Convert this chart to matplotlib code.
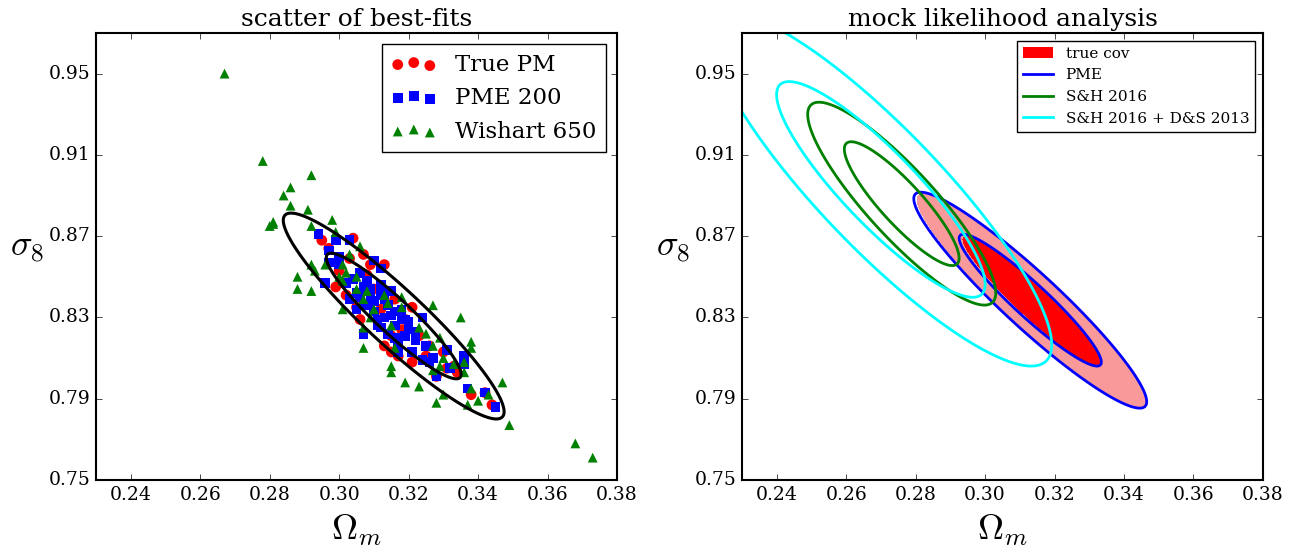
import numpy as np
import matplotlib
matplotlib.use('Agg')
import matplotlib.pyplot as plt
from matplotlib.patches import Patch
from matplotlib.lines import Line2D

plt.style.use('classic')
plt.rcParams['font.family'] = ['DejaVu Serif']
plt.rcParams['mathtext.fontset'] = 'cm'
plt.rcParams['axes.linewidth'] = 1.5

# best-fit points
true_pm_om = [0.295, 0.304, 0.297, 0.307, 0.303, 0.313, 0.299, 0.305, 0.321, 0.315,
              0.313, 0.315, 0.317, 0.321, 0.328, 0.331, 0.333, 0.334, 0.330, 0.338,
              0.342, 0.344, 0.308, 0.310, 0.316, 0.319, 0.323, 0.326, 0.302, 0.306,
              0.312, 0.318, 0.325, 0.300, 0.309]
true_pm_s8 = [0.868, 0.869, 0.864, 0.861, 0.859, 0.856, 0.845, 0.835, 0.835, 0.821,
              0.816, 0.813, 0.811, 0.808, 0.801, 0.805, 0.806, 0.803, 0.813, 0.792,
              0.793, 0.787, 0.851, 0.844, 0.839, 0.829, 0.821, 0.816, 0.841, 0.829,
              0.834, 0.824, 0.811, 0.853, 0.856]

pme_om = [0.294, 0.299, 0.303, 0.297, 0.300, 0.310, 0.297, 0.300, 0.312, 0.296,
          0.304, 0.308, 0.307, 0.312, 0.305, 0.309, 0.307, 0.313, 0.315, 0.310,
          0.315, 0.318, 0.319, 0.316, 0.320, 0.312, 0.307, 0.316, 0.322, 0.317,
          0.321, 0.324, 0.326, 0.327, 0.336, 0.336, 0.328, 0.337, 0.342, 0.345,
          0.324, 0.303, 0.305, 0.314, 0.318, 0.309, 0.306, 0.302, 0.311, 0.317,
          0.325, 0.331, 0.332, 0.310, 0.313, 0.316, 0.320, 0.311, 0.314, 0.319,
          0.306, 0.309, 0.322, 0.308, 0.312]
pme_s8 = [0.871, 0.868, 0.868, 0.863, 0.860, 0.858, 0.857, 0.856, 0.854, 0.847,
          0.849, 0.848, 0.845, 0.846, 0.842, 0.840, 0.836, 0.839, 0.843, 0.833,
          0.831, 0.834, 0.829, 0.826, 0.824, 0.825, 0.822, 0.820, 0.819, 0.813,
          0.813, 0.809, 0.808, 0.810, 0.811, 0.807, 0.801, 0.795, 0.793, 0.786,
          0.830, 0.839, 0.834, 0.836, 0.830, 0.844, 0.852, 0.847, 0.829, 0.818,
          0.816, 0.814, 0.805, 0.838, 0.830, 0.833, 0.828, 0.826, 0.822, 0.821,
          0.840, 0.836, 0.823, 0.843, 0.841]

wishart_om = [0.267, 0.278, 0.292, 0.286, 0.284, 0.286, 0.291, 0.281, 0.281, 0.280,
              0.298, 0.292, 0.299, 0.306, 0.292, 0.293, 0.296, 0.301, 0.288, 0.288,
              0.292, 0.302, 0.300, 0.305, 0.301, 0.308, 0.313, 0.314, 0.318, 0.318,
              0.327, 0.301, 0.309, 0.307, 0.307, 0.315, 0.323, 0.325, 0.329, 0.335,
              0.338, 0.338, 0.327, 0.330, 0.333, 0.336, 0.336, 0.327, 0.316, 0.315,
              0.315, 0.319, 0.323, 0.328, 0.330, 0.338, 0.340, 0.337, 0.347, 0.343,
              0.349, 0.368, 0.373, 0.329, 0.303, 0.307, 0.310, 0.305]
wishart_s8 = [0.950, 0.907, 0.900, 0.894, 0.890, 0.885, 0.883, 0.877, 0.876, 0.875,
              0.878, 0.875, 0.872, 0.865, 0.856, 0.853, 0.856, 0.856, 0.850, 0.844,
              0.843, 0.852, 0.850, 0.850, 0.848, 0.843, 0.841, 0.837, 0.840, 0.835,
              0.836, 0.834, 0.830, 0.825, 0.815, 0.826, 0.825, 0.822, 0.820, 0.830,
              0.818, 0.815, 0.816, 0.810, 0.807, 0.808, 0.803, 0.804, 0.815, 0.806,
              0.803, 0.798, 0.796, 0.788, 0.792, 0.795, 0.789, 0.787, 0.798, 0.792,
              0.777, 0.768, 0.761, 0.806, 0.861, 0.839, 0.834, 0.844]

# gaussian ellipse of the scatter (centre, sigmas, correlation)
scat_center = (0.3157, 0.8307)
scat_sigma = (0.0128, 0.0204)
scat_rho = -0.93

# gaussian approximations of the likelihood contours
true_center = (0.3135, 0.8380)
true_sigma = (0.0133, 0.0213)
true_rho = -0.943

pme_center = (0.3130, 0.8385)
pme_sigma = (0.0135, 0.0214)
pme_rho = -0.94

sh_center = (0.2760, 0.8860)
sh_sigma = (0.0109, 0.0201)
sh_rho = -0.88

shds_center = (0.2700, 0.8930)
shds_sigma = (0.0198, 0.0350)
shds_rho = -0.88

chi2_levels = [2.30, 6.17]

xticks = [0.24, 0.26, 0.28, 0.30, 0.32, 0.34, 0.36, 0.38]
yticks = [0.75, 0.79, 0.83, 0.87, 0.91, 0.95]

gx, gy = np.meshgrid(np.linspace(0.18, 0.42, 500), np.linspace(0.68, 1.05, 500))


def chi2(center, sigma, rho):
    dx = (gx - center[0]) / sigma[0]
    dy = (gy - center[1]) / sigma[1]
    return (dx**2 - 2 * rho * dx * dy + dy**2) / (1 - rho**2)


def style_axes(ax):
    ax.set_xlim(0.23, 0.38)
    ax.set_ylim(0.75, 0.97)
    ax.set_xticks(xticks)
    ax.set_yticks(yticks)
    ax.set_xticklabels(['%.2f' % v for v in xticks])
    ax.set_yticklabels(['%.2f' % v for v in yticks])
    ax.tick_params(labelsize=13.5)
    ax.set_xlabel(r'$\Omega_m$', fontsize=26, va='center')
    ax.xaxis.set_label_coords(0.5, -0.112)
    ax.set_ylabel(r'$\sigma_8$', fontsize=26, rotation=0, va='center', ha='center')
    ax.yaxis.set_label_coords(-0.132, 0.519)


fig = plt.figure(figsize=(12.96, 5.46), dpi=100, facecolor='white')
ax1 = fig.add_axes([0.0741, 0.1209, 0.402, 0.8187])
ax2 = fig.add_axes([0.5725, 0.1209, 0.402, 0.8187])

# left: scatter of best-fits
ax1.scatter(true_pm_om, true_pm_s8, s=60, c='red', marker='o', edgecolors='none', label='True PM')
ax1.scatter(pme_om, pme_s8, s=48, c='blue', marker='s', edgecolors='none', label='PME 200')
ax1.scatter(wishart_om, wishart_s8, s=50, c='green', marker='^', edgecolors='none', label='Wishart 650')
ax1.contour(gx, gy, chi2(scat_center, scat_sigma, scat_rho), levels=chi2_levels,
            colors='k', linewidths=2.2)
style_axes(ax1)
ax1.set_title('scatter of best-fits', fontsize=18)
ax1.legend(loc='upper right', scatterpoints=3, scatteryoffsets=[0.375, 0.5, 0.3125],
           fontsize=16.5, handlelength=2.0)

# right: mock likelihood analysis
ax2.contourf(gx, gy, chi2(true_center, true_sigma, true_rho), levels=[0] + chi2_levels,
             colors=['#ff0000', '#fa9999'])
ax2.contour(gx, gy, chi2(pme_center, pme_sigma, pme_rho), levels=chi2_levels,
            colors='blue', linewidths=2)
ax2.contour(gx, gy, chi2(sh_center, sh_sigma, sh_rho), levels=chi2_levels,
            colors='green', linewidths=2)
ax2.contour(gx, gy, chi2(shds_center, shds_sigma, shds_rho), levels=chi2_levels,
            colors='cyan', linewidths=2)
style_axes(ax2)
ax2.set_title('mock likelihood analysis', fontsize=18)
handles = [Patch(facecolor='red', edgecolor='none', label='true cov'),
           Line2D([], [], color='blue', lw=2, label='PME'),
           Line2D([], [], color='green', lw=2, label='S&H 2016'),
           Line2D([], [], color='cyan', lw=2, label='S&H 2016 + D&S 2013')]
ax2.legend(handles=handles, loc='upper right', fontsize=11, numpoints=1)

fig.savefig('out.png', dpi=100, facecolor='white')
